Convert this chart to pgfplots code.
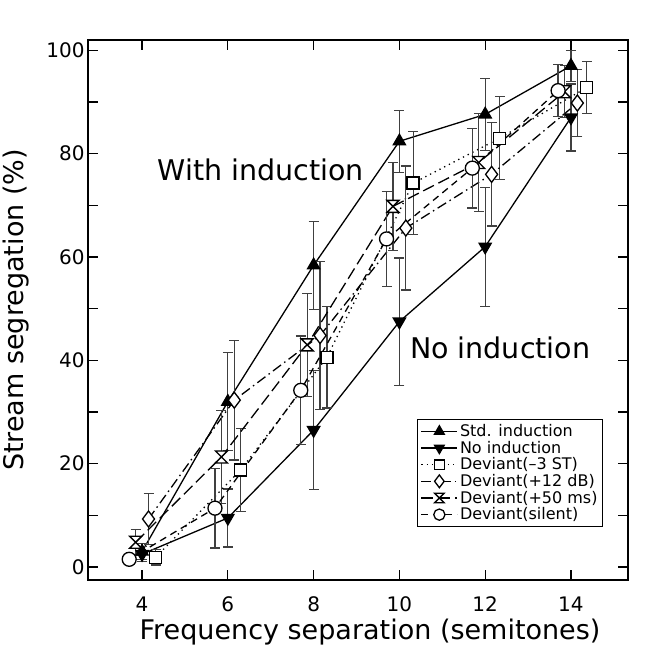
\documentclass[border=0pt]{standalone}
\usepackage{fontspec}
\setmainfont{DejaVu Sans}
\usepackage{pgfplots}
\pgfplotsset{compat=1.18}
\usetikzlibrary{calc}

% hourglass mark for the +50 ms deviant
\pgfdeclareplotmark{hourglass}{%
  \pgfpathmoveto{\pgfqpoint{-\pgfplotmarksize}{\pgfplotmarksize}}%
  \pgfpathlineto{\pgfqpoint{\pgfplotmarksize}{\pgfplotmarksize}}%
  \pgfpathlineto{\pgfqpoint{-\pgfplotmarksize}{-\pgfplotmarksize}}%
  \pgfpathlineto{\pgfqpoint{\pgfplotmarksize}{-\pgfplotmarksize}}%
  \pgfpathclose
  \pgfusepathqfillstroke
}

\begin{document}
\begin{tikzpicture}
\begin{axis}[
    width=540pt, height=540pt, scale only axis,
    xmin=2.74, xmax=15.33, ymin=-2.5, ymax=102,
    axis line style={line width=1.6pt},
    tick align=inside,
    tick style={line width=1.2pt, black},
    major tick length=10pt, minor tick length=10pt,
    xtick={4,6,...,14}, ytick={0,20,...,100},
    minor ytick={10,30,...,90},
    xlabel={Frequency separation (semitones)},
    ylabel={Stream segregation (\%)},
    label style={font=\fontsize{27}{31}\selectfont},
    xlabel style={xshift=12pt},
    ylabel style={yshift=10pt},
    tick label style={font=\fontsize{20}{24}\selectfont},
    xticklabel style={yshift=-13pt},
    /pgf/number format/assume math mode=true,
    every axis plot/.append style={line width=1.3pt, black},
    error bars/y dir=both, error bars/y explicit,
    error bars/error bar style={line width=1.2pt, black!75, solid},
    error bars/error mark options={rotate=90, mark size=5pt, line width=1.2pt, black!75, solid},
    legend style={at={(0.954,0.098)}, anchor=south east,
        font=\fontsize{16}{18}\selectfont, draw=black, line width=1.2pt,
        row sep=-1pt, inner sep=3pt},
    legend cell align=left,
    legend image code/.code={\draw[mark repeat=2,mark phase=2, every mark/.append style={scale=0.8}] plot coordinates {(0pt,0pt) (18pt,0pt) (36pt,0pt)};},
]

% Std. induction
\addplot[solid, mark=triangle*, mark size=7pt, mark options={solid, fill=black}]
  coordinates {
  (4,3)     +- (0,1.5)
  (6,32)    +- (0,9.5)
  (8,58.4)  +- (0,8.5)
  (10,82.4) +- (0,6)
  (12,87.6) +- (0,7)
  (14,97)   +- (0,3)
};
\addlegendentry{Std. induction}

% No induction
\addplot[solid, mark=triangle*, mark size=7pt, mark options={solid, fill=black, rotate=180}]
  coordinates {
  (4,2.5)   +- (0,1.5)
  (6,9.5)   +- (0,5.6)
  (8,26.5)  +- (0,11.5)
  (10,47.5) +- (0,12.3)
  (12,62)   +- (0,11.5)
  (14,87)   +- (0,6.5)
};
\addlegendentry{No induction}

% Deviant (-3 ST)
\addplot[dash pattern=on 1.3pt off 4pt, mark=square*, mark size=6pt, mark options={solid, fill=white}]
  coordinates {
  (4.32,1.9)   +- (0,1.5)
  (6.30,18.8)  +- (0,8)
  (8.31,40.6)  +- (0,9.8)
  (10.32,74.3) +- (0,10)
  (12.34,83)   +- (0,8)
  (14.37,92.8) +- (0,5)
};
\addlegendentry{Deviant(--3 ST)}

% Deviant (+12 dB)
\addplot[dash pattern=on 10pt off 4pt on 1.5pt off 4pt, mark=diamond*, mark size=8pt, mark options={solid, fill=white}]
  coordinates {
  (4.15,9.3)   +- (0,5)
  (6.15,32.3)  +- (0,11.6)
  (8.15,44.8)  +- (0,14.3)
  (10.15,65.6) +- (0,12)
  (12.15,76)   +- (0,10)
  (14.15,89.8) +- (0,6.5)
};
\addlegendentry{Deviant(+12 dB)}

% Deviant (+50 ms)
\addplot[dash pattern=on 12pt off 5pt, mark=hourglass, mark size=6pt, mark options={solid, fill=white}]
  coordinates {
  (3.85,4.8)   +- (0,2.5)
  (5.85,21.3)  +- (0,9)
  (7.85,43)    +- (0,10)
  (9.85,69.8)  +- (0,8.5)
  (11.85,78.3) +- (0,9.5)
  (13.85,92)   +- (0,5)
};
\addlegendentry{Deviant(+50 ms)}

% Deviant (silent)
\addplot[dash pattern=on 7pt off 5pt, mark=*, mark size=7pt, mark options={solid, fill=white}]
  coordinates {
  (3.70,1.5)   +- (0,1)
  (5.70,11.4)  +- (0,7.7)
  (7.70,34.2)  +- (0,10.5)
  (9.70,63.5)  +- (0,9.2)
  (11.70,77.2) +- (0,7.7)
  (13.70,92.2) +- (0,5)
};
\addlegendentry{Deviant(silent)}

\node[font=\fontsize{28.5}{32}\selectfont] at (axis cs:6.77,76.8) {With induction};
\node[font=\fontsize{28.5}{32}\selectfont] at (axis cs:12.35,42.5) {No induction};

\end{axis}
\path ($(current axis.south west)+(-88pt,-68pt)$) rectangle ($(current axis.north east)+(21pt,40pt)$);
\end{tikzpicture}
\end{document}
